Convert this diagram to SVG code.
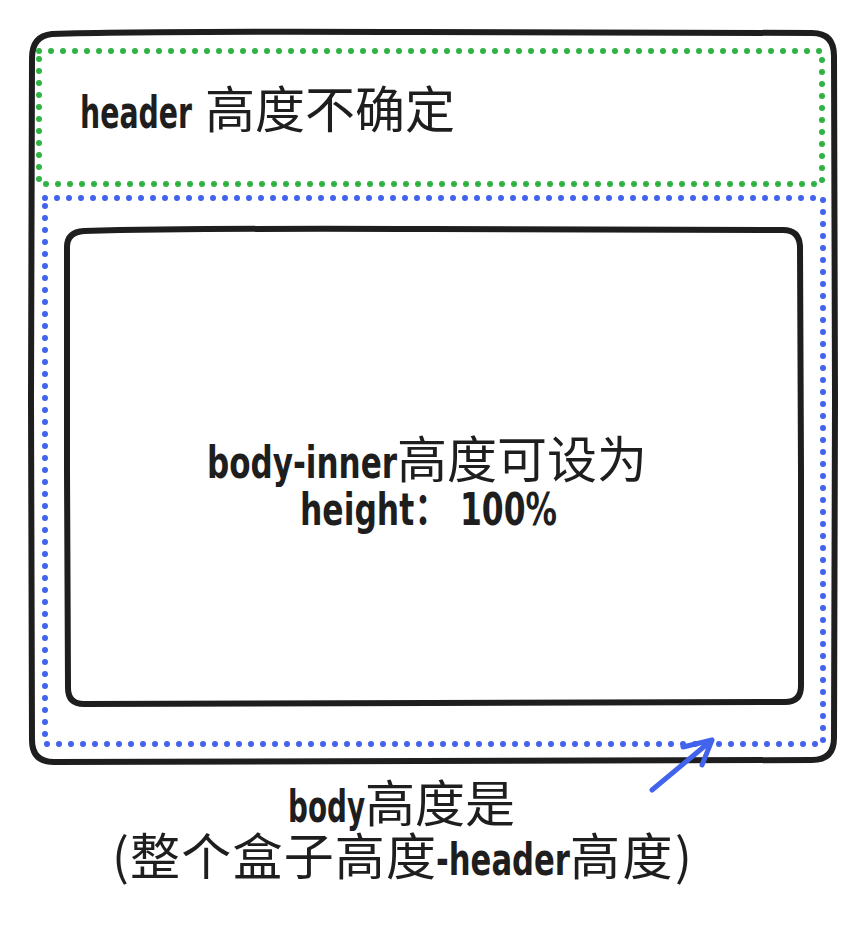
<svg xmlns="http://www.w3.org/2000/svg" width="866" height="934" viewBox="0 0 866 934">
  <style>
    .frame { fill: none; stroke: #1e1e1e; stroke-width: 6; stroke-linejoin: round; }
    .dots { fill: none; stroke-width: 6; stroke-linecap: round; stroke-dasharray: 0 12; }
    .green { stroke: #2fb344; }
    .blue { stroke: #4263eb; }
    .label { font-family: "Noto Sans CJK SC", "Noto Sans", sans-serif; font-size: 50px; fill: #1e1e1e; }
    .latin { font-family: "DejaVu Sans Condensed", "DejaVu Sans", "Liberation Sans", "Noto Sans CJK SC", sans-serif; font-weight: bold; font-size: 45px; }
    .arrow { fill: none; stroke: #4263eb; stroke-width: 5; stroke-linecap: round; stroke-linejoin: round; }
  </style>
  <rect width="866" height="934" fill="#ffffff"/>

  <!-- whole box -->
  <g id="outer-box">
    <path class="frame" d="M52 34 Q140 31 420 32 L812 33 Q834 33 834 56 L835 400 L834 738 Q834 760 812 760 L420 761 L54 762 Q32 762 32 740 L31 400 L32 58 Q32 36 52 34 Z"/>
  </g>

  <!-- header region -->
  <g id="header">
    <rect class="dots green" x="39" y="51" width="783" height="133"/>
    <text class="label" y="128"><tspan class="latin" x="80" textLength="112" lengthAdjust="spacingAndGlyphs">header</tspan><tspan x="205">高度不确定</tspan></text>
  </g>

  <!-- body region -->
  <g id="body">
    <rect class="dots blue" x="45" y="198" width="778" height="546"/>
  </g>

  <!-- body-inner -->
  <g id="body-inner">
    <path class="frame" d="M84 231 Q200 228 430 229 L783 230 Q799 230 800 246 L801 470 L801 686 Q801 702 785 702 L430 703 L84 704 Q68 704 68 688 L67 470 L67 247 Q67 232 84 231 Z"/>
    <text class="label"><tspan class="latin" x="207" y="478" textLength="190" lengthAdjust="spacingAndGlyphs">body-inner</tspan><tspan x="397" y="478">高度可设为</tspan><tspan class="latin" x="300" y="525" textLength="257" lengthAdjust="spacingAndGlyphs">height： 100%</tspan></text>
  </g>

  <!-- annotation below -->
  <g id="note">
    <text class="label"><tspan class="latin" x="288" y="822" textLength="77" lengthAdjust="spacingAndGlyphs">body</tspan><tspan x="365" y="822">高度是</tspan><tspan x="112" y="875" textLength="324" lengthAdjust="spacing">(整个盒子高度</tspan><tspan class="latin" x="436" y="875" textLength="134" lengthAdjust="spacingAndGlyphs">-header</tspan><tspan x="570" y="875" textLength="122" lengthAdjust="spacing">高度)</tspan></text>
  </g>

  <g id="connectors">
    <path class="arrow" d="M652 790 L712 740 M683 747 L712 740 L702 765"/>
  </g>
</svg>
